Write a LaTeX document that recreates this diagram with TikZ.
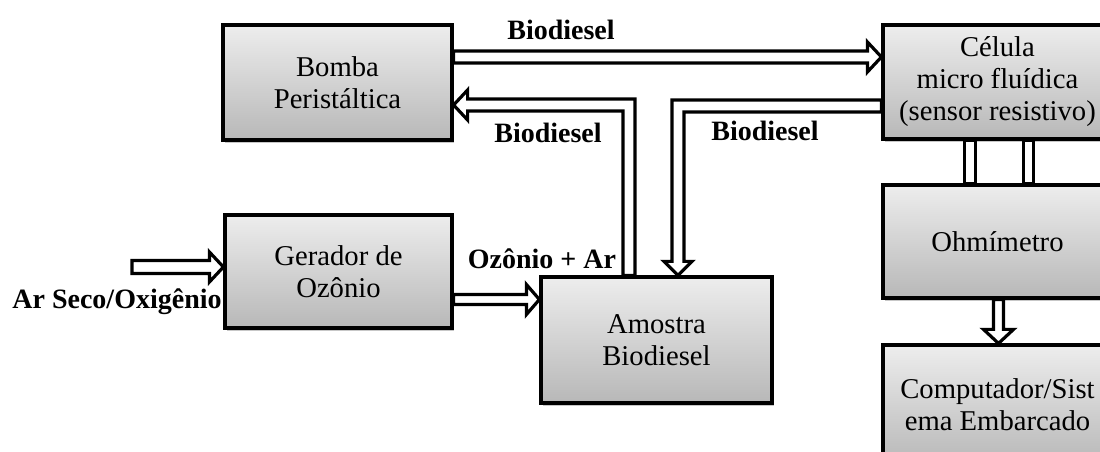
\documentclass[tikz,border=0pt]{standalone}
\usepackage{fontspec}
\setmainfont{Liberation Serif}
\usetikzlibrary{calc,shadows,backgrounds}
\begin{document}
\begin{tikzpicture}[x=0.75pt,y=-0.75pt,
  box/.style={draw=black, line width=2.4pt, top color=black!7, bottom color=black!28,
    align=center, inner sep=0pt, font=\fontsize{21.5}{24}\selectfont,
    drop shadow={shadow xshift=1.8pt, shadow yshift=-2.2pt, fill=black, opacity=0.22}},
  lbl/.style={inner sep=0pt, font=\fontsize{21}{24}\selectfont\bfseries},
  flow/.style={draw=black, fill=white, line width=2.4pt, line join=miter, miter limit=4}]
\useasboundingbox (0,0) rectangle (1100,452);

% blocks
\node[box, minimum width=171.75pt, minimum height=86.25pt] (bomba)   at (337.5,82.5) {Bomba\\Peristáltica};
\node[box, minimum width=171.75pt, minimum height=85.5pt]  (celula)  at (997.5,82)   {Célula\\micro fluídica\\(sensor resistivo)};
\node[box, minimum width=170.25pt, minimum height=84.75pt] (gerador) at (338.5,271.5) {Gerador de\\Ozônio};
\node[box, minimum width=173.25pt, minimum height=94.5pt]  (amostra) at (656.5,340)  {Amostra\\Biodiesel};
\node[box, minimum width=171.75pt, minimum height=84.75pt] (ohm)     at (997.5,241.5) {Ohmímetro};
\node[box, minimum width=171.75pt, minimum height=90pt]    (comp)    at (997.5,405)  {Computador/Sist\\ema Embarcado};

% anchor points of the flow arrows
\coordinate (a0) at (bomba.east |- 0,57);
\coordinate (a1) at (celula.west |- 0,57);
\coordinate (b0) at (bomba.east |- 0,105);
\coordinate (b1) at (amostra.north -| 629,0);
\coordinate (c0) at (celula.west |- 0,106);
\coordinate (c1) at (amostra.north -| 678,0);
\coordinate (d0) at (132,267);
\coordinate (d1) at (gerador.west |- 0,267);
\coordinate (e0) at (gerador.east |- 0,299.5);
\coordinate (e1) at (amostra.west |- 0,299.5);
\coordinate (f0) at ($(ohm.south)+(1,0)$);
\coordinate (f1) at ($(comp.north)+(1,0)$);
\coordinate (g1) at (970,0);
\coordinate (g2) at (1028.5,0);

\begin{scope}[on background layer]
% Bomba -> Celula
\draw[flow] ($(a0)+(0,-6)$) -- ($(a1)+(-14,-6)$) -- ($(a1)+(-14,-15)$) -- (a1)
  -- ($(a1)+(-14,15)$) -- ($(a1)+(-14,6)$) -- ($(a0)+(0,6)$) -- cycle;
% Amostra -> Bomba
\draw[flow] ($(b1)+(6,0)$) -- ($(b1 |- b0)+(6,-6)$) -- ($(b0)+(14,-6)$) -- ($(b0)+(14,-15)$) -- (b0)
  -- ($(b0)+(14,15)$) -- ($(b0)+(14,6)$) -- ($(b1 |- b0)+(-6,6)$) -- ($(b1)+(-6,0)$) -- cycle;
% Celula -> Amostra
\draw[flow] ($(c0)+(0,-6)$) -- ($(c1 |- c0)+(-6,-6)$) -- ($(c1)+(-6,-14)$) -- ($(c1)+(-14,-14)$) -- (c1)
  -- ($(c1)+(14,-14)$) -- ($(c1)+(6,-14)$) -- ($(c1 |- c0)+(6,6)$) -- ($(c0)+(0,6)$) -- cycle;
% dry air / oxygen inlet
\draw[flow] ($(d0)+(0,-6.5)$) -- ($(d1)+(-14,-6.5)$) -- ($(d1)+(-14,-15)$) -- (d1)
  -- ($(d1)+(-14,15)$) -- ($(d1)+(-14,6.5)$) -- ($(d0)+(0,6.5)$) -- cycle;
% Gerador -> Amostra
\draw[flow] ($(e0)+(0,-5)$) -- ($(e1)+(-13,-5)$) -- ($(e1)+(-13,-15)$) -- (e1)
  -- ($(e1)+(-13,15)$) -- ($(e1)+(-13,5)$) -- ($(e0)+(0,5)$) -- cycle;
% Ohmimetro -> Computador
\draw[flow] ($(f0)+(-5,0)$) -- ($(f1)+(-5,-14)$) -- ($(f1)+(-15,-14)$) -- (f1)
  -- ($(f1)+(15,-14)$) -- ($(f1)+(5,-14)$) -- ($(f0)+(5,0)$) -- cycle;
% electrode leads Celula -- Ohmimetro
\draw[flow] ($(celula.south -| g1)+(-5.5,0)$) rectangle ($(ohm.north -| g1)+(5.5,0)$);
\draw[flow] ($(celula.south -| g2)+(-5,0)$) rectangle ($(ohm.north -| g2)+(5,0)$);
\end{scope}

% labels
\node[lbl] (l1) at (561,30) {Biodiesel};
\node[lbl] (l2) at (548,133) {Biodiesel};
\node[lbl] (l3) at (765,131) {Biodiesel};
\node[lbl] (l4) at (542,259) {Ozônio + Ar};
\node[lbl] (l5) at (117,302) {Ar Seco/Oxigênio};
\end{tikzpicture}
\end{document}
